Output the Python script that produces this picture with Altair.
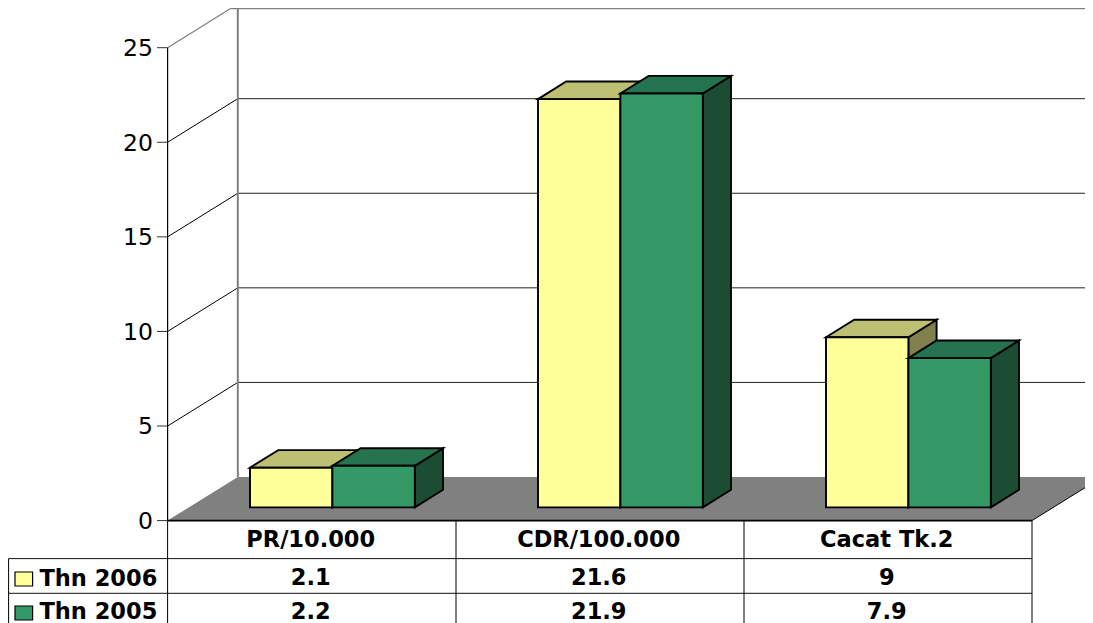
import altair as alt
import pandas as pd

categories = ["PR/10.000", "CDR/100.000", "Cacat Tk.2"]
series_names = ["Thn 2006", "Thn 2005"]
values_2006 = [2.1, 21.6, 9]
values_2005 = [2.2, 21.9, 7.9]
tick_values = [0, 5, 10, 15, 20, 25]
table_labels_2006 = ["2.1", "21.6", "9"]
table_labels_2005 = ["2.2", "21.9", "7.9"]

W, H = 1077, 615
PAGE = 8
CAT_PX = 288.0
X0_PX = 167.6      # left of first category
Y0_PX = 520.6      # value 0 on the front plane
UNIT_PX = 18.9     # pixels per value unit


def xd(px):
    return (px - X0_PX) / CAT_PX


def yd(px):
    return (Y0_PX - px) / UNIT_PX


X_SCALE = alt.Scale(domain=[xd(PAGE), xd(PAGE + W)], nice=False, zero=False)
Y_SCALE = alt.Scale(domain=[yd(PAGE + H), yd(PAGE)], nice=False, zero=False)
X = alt.X("x:Q", scale=X_SCALE, axis=None)
Y = alt.Y("y:Q", scale=Y_SCALE, axis=None)

# colours per series: front, top, side
FACES = [("#FFFF99", "#BDBF73", "#80804D"), ("#339966", "#267350", "#1A4D33")]
BAR_W = 82.4 / CAT_PX
BAR_START = 82.4 / CAT_PX
DX = 28.2 / CAT_PX
DY = 17.6 / UNIT_PX
BASE = yd(507.4)
WALL_DX = 70.2
WALL_DY = 43.6


def add_poly(rows, pid, fill, pts):
    for i, (px, low, high) in enumerate(pts):
        rows.append(dict(pid=pid, fill=fill, x=px, y=low, y2=high))


def area_layer(rows, stroke=None, sw=0):
    kw = {}
    if stroke:
        kw.update(stroke=stroke, strokeWidth=sw)
    return alt.Chart(pd.DataFrame(rows)).mark_area(**kw).encode(
        x=X,
        y=Y,
        y2=alt.Y2("y2:Q"),
        detail="pid:N",
        fill=alt.Fill("fill:N", scale=None),
    )


bar_rows = []
pid = 0
for c in range(len(categories)):
    for s, vals in enumerate([values_2006, values_2005]):
        front, topc, side = FACES[s]
        l = c + BAR_START + s * BAR_W
        r = l + BAR_W
        v = vals[c] + BASE
        add_poly(bar_rows, pid, side, [(r, BASE, v), (r + DX, BASE + DY, v + DY)])
        pid += 1
        add_poly(bar_rows, pid, topc, [(l, v, v), (l + DX, v, v + DY), (r, v, v + DY), (r + DX, v + DY, v + DY)])
        pid += 1
        add_poly(bar_rows, pid, front, [(l, BASE, v), (r, BASE, v)])
        pid += 1

floor_rows = []
wd = yd(Y0_PX - WALL_DY)
add_poly(floor_rows, 0, "#808080", [
    (xd(X0_PX), 0, 0),
    (xd(X0_PX + WALL_DX), wd, 0),
    (xd(1032), wd, 0),
    (xd(1032 + WALL_DX), wd, wd),
])

line_rows = []


def ln(x1, y1, x2, y2, color="#000000", w=1.0):
    line_rows.append(dict(x=xd(x1), y=yd(y1), x2=xd(x2), y2=yd(y2), color=color, w=w))


TOP_CLAMP = PAGE + 0.6
for t in tick_values:
    fy = Y0_PX - t * (Y0_PX - 47.7) / 25
    by = fy - WALL_DY
    color = "#808080" if t == tick_values[-1] else "#000000"
    if t > 0:
        if by < TOP_CLAMP:
            frac = (fy - TOP_CLAMP) / (fy - by)
            ln(X0_PX, fy, X0_PX + WALL_DX * frac, TOP_CLAMP, color, 1.2)
            ln(X0_PX + WALL_DX * frac, TOP_CLAMP, PAGE + W, TOP_CLAMP, color, 1.4)
        else:
            ln(X0_PX, fy, X0_PX + WALL_DX, by, color, 1.0)
            ln(X0_PX + WALL_DX, by, PAGE + W, by, "#222222", 1.0)
    ln(157, fy, X0_PX, fy, "#333333", 1.0)
ln(X0_PX + WALL_DX, TOP_CLAMP, X0_PX + WALL_DX, Y0_PX - WALL_DY, "#808080", 2.0)
ln(X0_PX, 47.7, X0_PX, Y0_PX, "#000000", 1.2)


def rule_layer(rows):
    return alt.Chart(pd.DataFrame(rows)).mark_rule().encode(
        x=X, y=Y, x2=alt.X2("x2:Q"), y2=alt.Y2("y2:Q"),
        color=alt.Color("color:N", scale=None),
        strokeWidth=alt.StrokeWidth("w:Q", scale=None),
    )


back_lines = rule_layer(line_rows)

line_rows = []
ln(X0_PX, Y0_PX, 1032, Y0_PX, "#000000", 1.8)
ln(1032, Y0_PX, 1032 + WALL_DX, Y0_PX - WALL_DY, "#000000", 1.0)
for yy in (558.6, 593.3):
    ln(8.6, yy, 1032, yy, "#111111", 1.0)
for xx in (X0_PX, 456, 744, 1032):
    ln(xx, Y0_PX, xx, 623, "#000000", 1.0)
ln(8.6, 558.6, 8.6, 623, "#000000", 1.0)
table_lines = rule_layer(line_rows)

tick_df = pd.DataFrame({
    "x": [xd(153)] * len(tick_values),
    "y": [(t * (Y0_PX - 47.7) / 25 - 1.4) / UNIT_PX for t in tick_values],
    "t": [str(t) for t in tick_values],
})
tick_text = alt.Chart(tick_df).mark_text(
    align="right", baseline="middle", font="DejaVu Sans", fontSize=23.5, color="#000000"
).encode(x=X, y=Y, text="t:N")

table_rows = []
for c, name in enumerate(categories):
    table_rows.append(dict(x=c + 0.5 - 0.003, y=yd(539.6), t=name))
    table_rows.append(dict(x=c + 0.5 - 0.003, y=yd(577.6), t=table_labels_2006[c]))
    table_rows.append(dict(x=c + 0.5 - 0.003, y=yd(611.6), t=table_labels_2005[c]))
table_text = alt.Chart(pd.DataFrame(table_rows)).mark_text(
    align="center", baseline="middle", font="DejaVu Sans", fontWeight="bold", fontSize=22.5, color="#000000"
).encode(x=X, y=Y, text="t:N")

legend_text = alt.Chart(pd.DataFrame({
    "x": [xd(39.5)] * 2,
    "y": [yd(578.5), yd(611.5)],
    "t": series_names,
})).mark_text(
    align="left", baseline="middle", font="DejaVu Sans", fontWeight="bold", fontSize=22.5, color="#000000"
).encode(x=X, y=Y, text="t:N")

swatch = alt.Chart(pd.DataFrame({
    "x": [xd(15)] * 2,
    "x2": [xd(32.6)] * 2,
    "y": [yd(586), yd(620)],
    "y2": [yd(572), yd(606)],
    "fill": [FACES[0][0], FACES[1][0]],
})).mark_rect(stroke="#000000", strokeWidth=1.2).encode(
    x=X, x2=alt.X2("x2:Q"), y=Y, y2=alt.Y2("y2:Q"),
    fill=alt.Fill("fill:N", scale=None),
)

chart = alt.layer(
    area_layer(floor_rows),
    back_lines,
    area_layer(bar_rows, stroke="#000000", sw=1.9),
    table_lines,
    tick_text,
    table_text,
    legend_text,
    swatch,
).properties(
    width=W, height=H, padding=0, autosize=alt.AutoSizeParams(type="none"),
    background="#ffffff",
).configure_view(stroke=None)

chart.save("out.html", embed_options={"renderer": "svg", "actions": False})
